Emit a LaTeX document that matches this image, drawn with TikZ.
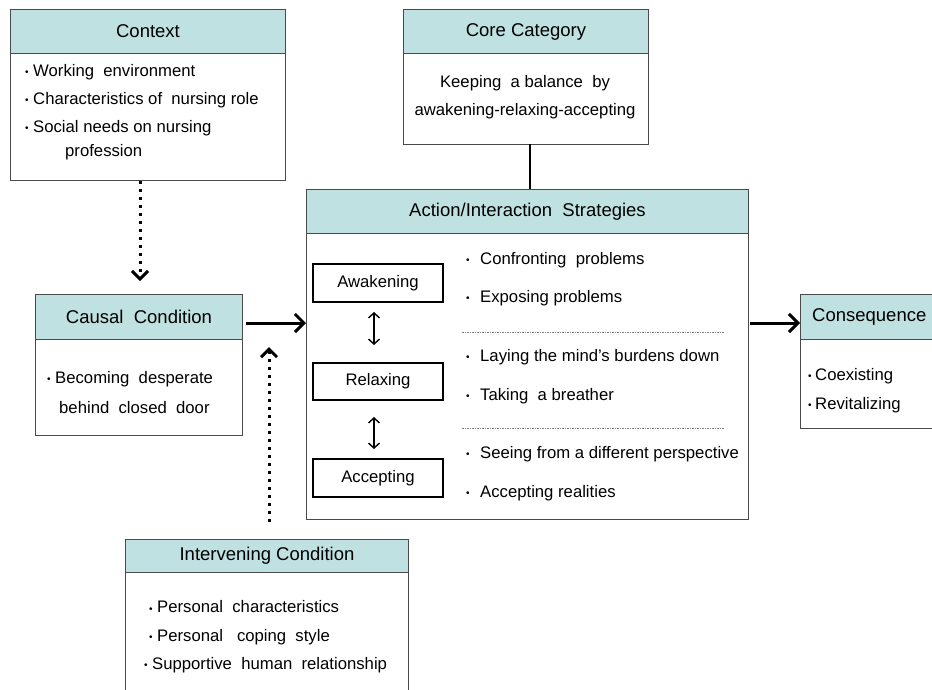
\documentclass[tikz,border=0pt]{standalone}
\usepackage{fontspec}
\setmainfont{Liberation Sans}
\usetikzlibrary{arrows.meta}
\definecolor{hdrfill}{HTML}{BFE1E1}
\definecolor{edgecol}{HTML}{4A4A4A}
\newcommand\bl[1]{\makebox[#1][l]{\fontsize{10}{10}\selectfont\raisebox{0.5pt}{•}}}
\tikzset{
  hdrbox/.style={draw=edgecol, fill=hdrfill, line width=1pt, anchor=north west, inner sep=0pt,
    font=\fontsize{18.5}{20}\selectfont},
  bodybox/.style={draw=edgecol, fill=white, line width=1pt, anchor=north west, inner sep=0pt},
  txt/.style={anchor=west, inner sep=0pt, font=\fontsize{16.7}{18}\selectfont},
  ctxt/.style={anchor=center, inner sep=0pt, font=\fontsize{16.7}{18}\selectfont},
  stagebox/.style={draw=black, line width=2pt, inner sep=0pt, minimum width=130, anchor=north west,
    font=\fontsize{16.7}{18}\selectfont},
  bigarrow/.style={line width=3pt, -{Straight Barb[length=9pt,width=18pt,line width=3pt]}},
  dotarrow/.style={line width=3pt, dash pattern=on 3pt off 5pt,
    -{Straight Barb[length=8pt,width=16pt,line width=3pt]}},
  dblarrow/.style={line width=1.4pt, {Straight Barb[length=5pt,width=11pt,line width=1.4pt]}-{Straight Barb[length=5pt,width=11pt,line width=1.4pt]}},
  sepline/.style={line width=0.6pt, gray, dash pattern=on 1.5pt off 1pt},
  link/.style={line width=2pt, draw=black}
}
\begin{document}
\begin{tikzpicture}[x=1pt,y=-1pt]
\clip (0,0) rectangle (932,689);
\fill[white] (0,0) rectangle (932,689);

% Context
\node[bodybox, minimum width=275, minimum height=127] (ctxb) at (10,53) {};
\node[hdrbox, minimum width=275, minimum height=44] (ctxh) at (10,9) {Context};
\node[txt] (c1) at (25,72) {\bl{8pt}Working\ \ environment};
\node[txt] (c2) at (25,100) {\bl{8pt}Characteristics of\ \ nursing role};
\node[txt] (c3) at (25,128) {\bl{8pt}Social needs on nursing};
\node[txt] (c4) at (65,152) {profession};

% Core category
\node[bodybox, minimum width=245, minimum height=91] (coreb) at (403,53) {};
\node[hdrbox, minimum width=245, minimum height=44] (coreh) at (403,9) {Core Category};
\node[ctxt] (k1) at (525,83) {Keeping\ \ a balance\ \ by};
\node[ctxt] (k2) at (525,111) {awakening-relaxing-accepting};

% Action / Interaction
\node[bodybox, minimum width=442, minimum height=286] (actb) at (306,233) {};
\node[hdrbox, minimum width=442, minimum height=44] (acth) at (306,189) {Action/Interaction\ \ Strategies};
\node[stagebox, minimum height=38] (aw) at (312,263) {Awakening};
\node[stagebox, minimum height=37] (rl) at (312,362) {Relaxing};
\node[stagebox, minimum height=38] (ac) at (312,458) {Accepting};
\draw[dblarrow, shorten <=9pt, shorten >=17pt] ([xshift=-4pt]aw.south) -- ([xshift=-4pt]rl.north);
\draw[dblarrow, shorten <=16pt, shorten >=9pt] ([xshift=-4pt]rl.south) -- ([xshift=-4pt]ac.north);
\node[txt] (a1) at (466,260) {\bl{14pt}Confronting\ \ problems};
\node[txt] (a2) at (466,298) {\bl{14pt}Exposing problems};
\node[txt] (a3) at (466,357) {\bl{14pt}Laying the mind’s burdens down};
\node[txt] (a4) at (466,396) {\bl{14pt}Taking\ \ a breather};
\node[txt] (a5) at (466,454) {\bl{14pt}Seeing from a different perspective};
\node[txt] (a6) at (466,493) {\bl{14pt}Accepting realities};
\coordinate (s1a) at (462,332); \coordinate (s1b) at (724,332);
\coordinate (s2a) at (462,428); \coordinate (s2b) at (724,428);
\draw[sepline] (s1a) -- (s1b);
\draw[sepline] (s2a) -- (s2b);

% Causal condition
\node[bodybox, minimum width=207, minimum height=96] (caub) at (35,339) {};
\node[hdrbox, minimum width=207, minimum height=45] (cauh) at (35,294) {Causal\ \ Condition};
\node[txt] (u1) at (47,379) {\bl{8pt}Becoming\ \ desperate};
\node[txt] (u2) at (59,408) {behind\ \ closed\ \ door};

% Consequence
\node[bodybox, minimum width=150, minimum height=89] (conb) at (800,339) {};
\node[hdrbox, minimum width=150, minimum height=45] (conh) at (800,294) {};
\node[anchor=west, inner sep=0pt, font=\fontsize{18.5}{20}\selectfont] (cont) at (812,317) {Consequence};
\node[txt] (q1) at (808,376) {\bl{7pt}Coexisting};
\node[txt] (q2) at (808,405) {\bl{7pt}Revitalizing};

% Intervening condition
\node[bodybox, minimum width=283, minimum height=140] (intb) at (125,572) {};
\node[hdrbox, minimum width=283, minimum height=33] (inth) at (125,539) {Intervening Condition};
\node[txt] (i1) at (149,607) {\bl{8pt}Personal\ \ characteristics};
\node[txt] (i2) at (149,637) {\bl{8pt}Personal\ \ \ coping\ \ style};
\node[txt] (i3) at (144,665) {\bl{8pt}Supportive\ \ human\ \ relationship};

% Connectors
\coordinate (coreout) at (530,144);
\draw[link] (coreout) -- (coreout |- acth.north);
\coordinate (ctxout) at (140,181);
\coordinate (cauin) at (140,281);
\draw[dotarrow] (ctxout) -- (cauin);
\draw[bigarrow] (cauh.east |- 0,323) ++(3,0) coordinate (cauout) -- (acth.west |- 0,323);
\draw[bigarrow] (acth.east |- 0,323) ++(1,0) coordinate (actout) -- (conh.west |- 0,323);
\coordinate (intout) at (269,522);
\coordinate (intend) at (269,347);
\draw[dotarrow] (intout) -- (intend);
\end{tikzpicture}
\end{document}
